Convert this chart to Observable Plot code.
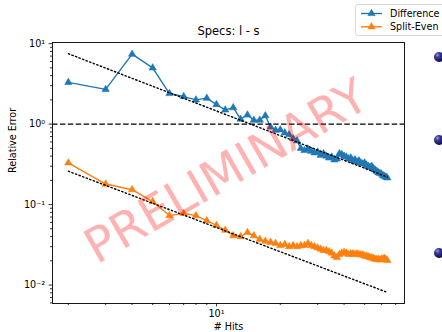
<!DOCTYPE html>
<html>
<head>
<meta charset="utf-8">
<script src="https://cdn.jsdelivr.net/npm/d3@7"></script>
<script src="https://cdn.jsdelivr.net/npm/@observablehq/plot@0.6"></script>
<style>
  html, body { margin: 0; padding: 0; background: #fff; overflow: hidden; width: 442px; height: 332px; }
  #wrap { position: relative; width: 442px; height: 332px; }
  #overlay { position: absolute; left: 0; top: 0; pointer-events: none; }
</style>
</head>
<body>
<div id="wrap"><div id="chart"></div></div>
<script>
// ---- data ----
const seriesNames = ["Difference", "Split-Even"];
const seriesColors = ["#1f77b4", "#ff7f0e"];
const hits = [2,3,4,5,6,7,8,9,10,11,12,13,14,15,16,17,18,19,20,21,22,23,24,25,26,27,28,29,30,31,32,33,
  34,35,36,37,38,39,40,41,42,43,44,45,46,47,48,49,50,51,52,53,54,55,56,57,58,59,60,61,62,63,64];
const difference = [3.3,2.7,7.4,5.0,2.4,2.2,2.0,2.1,1.75,1.5,1.6,1.15,1.3,1.12,1.12,1.27,0.92,0.84,0.85,0.78,
  0.74,0.66,0.62,0.5,0.47,0.49,0.46,0.44,0.45,0.41,0.43,0.40,0.38,0.39,0.36,0.37,0.43,0.42,0.40,0.39,
  0.37,0.38,0.35,0.36,0.34,0.35,0.33,0.32,0.33,0.31,0.30,0.29,0.30,0.28,0.27,0.26,0.25,0.245,0.24,0.23,
  0.225,0.22,0.215];
const splitEven = [0.33,0.18,0.153,0.109,0.073,0.078,0.073,0.063,0.055,0.048,0.041,0.040,0.045,0.041,0.037,
  0.035,0.034,0.033,0.031,0.032,0.030,0.031,0.030,0.031,0.031,0.033,0.031,0.030,0.029,0.028,0.027,0.027,
  0.026,0.025,0.023,0.022,0.024,0.025,0.0255,0.025,0.024,0.0245,0.0245,0.024,0.0245,0.024,0.0238,0.0237,
  0.023,0.0228,0.0225,0.022,0.0218,0.0215,0.021,0.0208,0.021,0.0205,0.021,0.0212,0.0215,0.0208,0.0202];
// power-law fit lines (endpoints, straight in log-log)
const fitDiffX = [2, 64], fitDiffY = [7.5, 0.22];
const fitSplitX = [2, 64], fitSplitY = [0.26, 0.0081];
const refLine = [1];
const yTicks = [0.01, 0.1, 1, 10];
const yTickLabels = ["10\u207B\u00B2", "10\u207B\u00B9", "10\u2070", "10\u00B9"];
const yMinor = [0.006,0.007,0.008,0.009,0.02,0.03,0.04,0.05,0.06,0.07,0.08,0.09,
  0.2,0.3,0.4,0.5,0.6,0.7,0.8,0.9,2,3,4,5,6,7,8,9];
const xTicks = [10];
const xTickLabels = ["10\u00B9"];
const xMinor = [2,3,4,5,6,7,8,9,20,30,40,50,60,70];
const title = "Specs: l - s";
const xLabel = "# Hits";
const yLabel = "Relative Error";
const watermark = "PRELIMINARY";

// ---- build ----
const diffData = hits.map((h, i) => ({x: h, y: difference[i]}));
const splitData = hits.map((h, i) => ({x: h, y: splitEven[i]}));
const fitDiff = fitDiffX.map((x, i) => ({x, y: fitDiffY[i]}));
const fitSplit = fitSplitX.map((x, i) => ({x, y: fitSplitY[i]}));
const fs = 9.6;

const chart = Plot.plot({
  width: 442, height: 332,
  marginLeft: 52, marginRight: 38, marginTop: 42, marginBottom: 29,
  style: {fontFamily: "'DejaVu Sans', sans-serif", fontSize: fs + "px", background: "#fff", color: "#000"},
  x: {type: "log", domain: [1.684, 77.1], label: null},
  y: {type: "log", domain: [0.0059, 10.33], label: null},
  marks: [
    Plot.axisY({ticks: yMinor, tickSize: 2, tickFormat: () => "", strokeWidth: 0.8}),
    Plot.axisY({ticks: yTicks, tickSize: 3.4, tickPadding: 4, strokeWidth: 0.8, fontSize: fs,
      tickFormat: d => yTickLabels[yTicks.indexOf(d)]}),
    Plot.axisX({ticks: xMinor, tickSize: 2, tickFormat: () => "", strokeWidth: 0.8}),
    Plot.axisX({ticks: xTicks, tickSize: 3.4, tickPadding: 3.5, strokeWidth: 0.8, fontSize: fs,
      tickFormat: d => xTickLabels[xTicks.indexOf(d)]}),
    Plot.line(diffData, {x: "x", y: "y", stroke: seriesColors[0], strokeWidth: 1.4}),
    Plot.dot(diffData, {x: "x", y: "y", symbol: "triangle", r: 2.7, fill: seriesColors[0], stroke: seriesColors[0], strokeWidth: 0.6}),
    Plot.line(splitData, {x: "x", y: "y", stroke: seriesColors[1], strokeWidth: 1.4}),
    Plot.dot(splitData, {x: "x", y: "y", symbol: "triangle", r: 2.7, fill: seriesColors[1], stroke: seriesColors[1], strokeWidth: 0.6}),
    Plot.line(fitDiff, {x: "x", y: "y", stroke: "#000", strokeWidth: 1.4, strokeDasharray: "1.4,2.4"}),
    Plot.line(fitSplit, {x: "x", y: "y", stroke: "#000", strokeWidth: 1.4, strokeDasharray: "1.4,2.4"}),
    Plot.ruleY(refLine, {stroke: "#000", strokeWidth: 1.4, strokeDasharray: "5.5,2.4"}),
    Plot.frame({stroke: "#000", strokeWidth: 0.9}),
    Plot.text([title], {frameAnchor: "top", dy: -11, lineAnchor: "middle", fontSize: 11.5, fill: "#000"}),
    Plot.text([xLabel], {frameAnchor: "bottom", dy: 23, lineAnchor: "middle", fontSize: fs, fill: "#000"}),
    Plot.text([yLabel], {frameAnchor: "left", dx: -40, rotate: -90, lineAnchor: "middle", fontSize: fs, fill: "#000"}),
    Plot.text([watermark], {frameAnchor: "middle", dx: -2, dy: -1, rotate: -30, lineAnchor: "middle",
      fontSize: 48, fill: "red", fillOpacity: 0.3})
  ]
});
document.getElementById("chart").appendChild(chart);

// ---- legend & slide bullets overlay ----
const ov = d3.select("#wrap").append("svg").attr("id", "overlay").attr("width", 442).attr("height", 332);
const grad = ov.append("defs").append("radialGradient").attr("id", "sph").attr("cx", "35%").attr("cy", "30%").attr("r", "70%");
grad.append("stop").attr("offset", "0%").attr("stop-color", "#9a9ae0");
grad.append("stop").attr("offset", "35%").attr("stop-color", "#3a3a9a");
grad.append("stop").attr("offset", "100%").attr("stop-color", "#0e0e40");
const bulletY = [57, 140, 253];
bulletY.forEach(y => ov.append("circle").attr("cx", 439).attr("cy", y).attr("r", 5).attr("fill", "url(#sph)"));

const lg = ov.append("g").style("font-family", "'DejaVu Sans', sans-serif").style("font-size", fs + "px");
lg.append("rect").attr("x", 355.5).attr("y", 4.5).attr("width", 110).attr("height", 31).attr("rx", 2.5)
  .attr("fill", "rgba(255,255,255,0.8)").attr("stroke", "#d0d0d0").attr("stroke-width", 0.8);
const tri = d3.symbol(d3.symbolTriangle, Math.PI * 2.7 * 2.7)();
seriesNames.forEach((name, i) => {
  const y = 13.5 + i * 13.3;
  lg.append("line").attr("x1", 361).attr("x2", 382).attr("y1", y).attr("y2", y)
    .attr("stroke", seriesColors[i]).attr("stroke-width", 1.4);
  lg.append("path").attr("d", tri).attr("transform", `translate(371.5,${y})`)
    .attr("fill", seriesColors[i]).attr("stroke", seriesColors[i]).attr("stroke-width", 0.6);
  lg.append("text").attr("x", 390).attr("y", y).attr("dy", "0.35em").text(name);
});
</script>
</body>
</html>
